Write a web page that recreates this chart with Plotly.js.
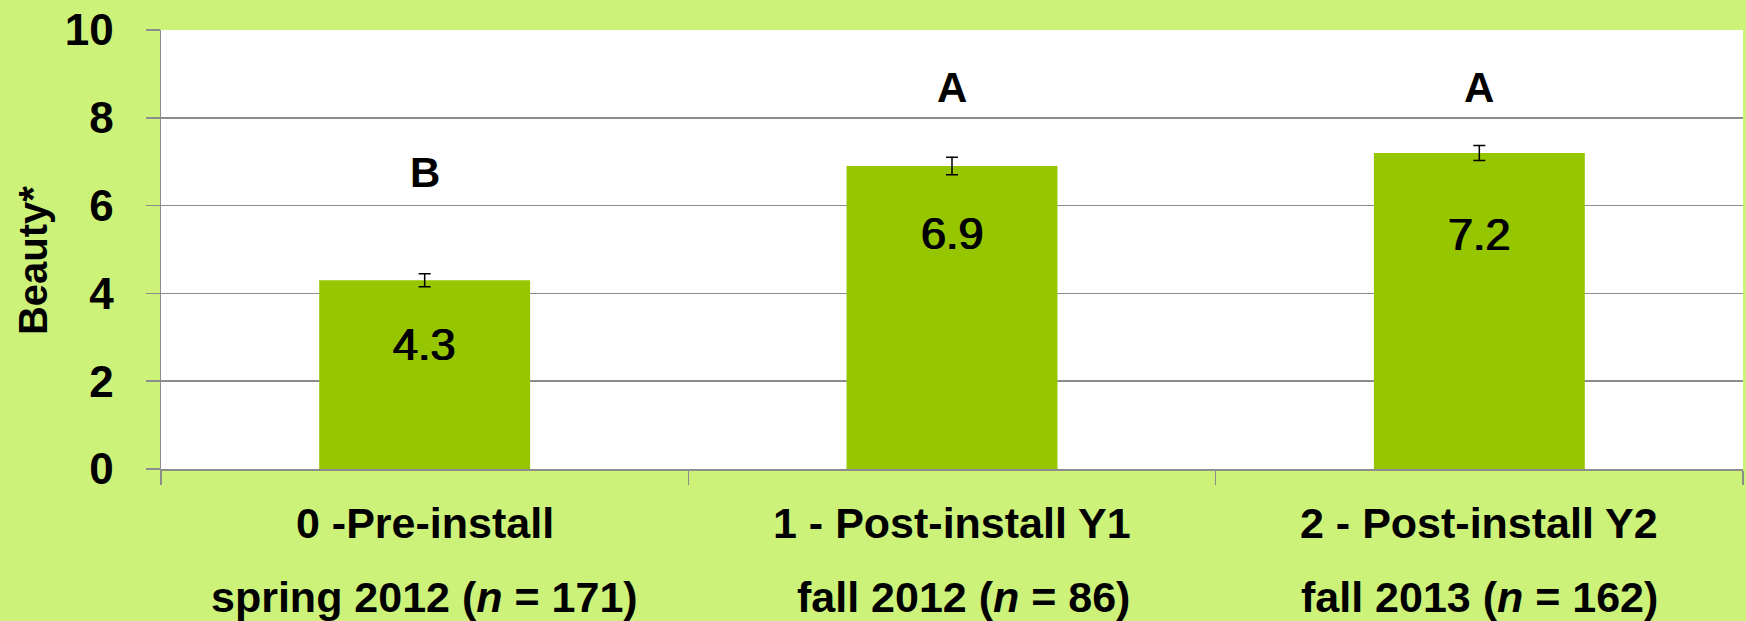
<!DOCTYPE html>
<html>
<head>
<meta charset="utf-8">
<script src="https://cdn.plot.ly/plotly-3.0.1.min.js"></script>
<style>
  html, body { margin: 0; padding: 0; background: #CCF27A; }
  #chart { width: 1746px; height: 621px; }
</style>
</head>
<body>
<div id="chart"></div>
<script>
// ---- data ----
const categories = ['0 -Pre-install', '1 - Post-install Y1', '2 - Post-install Y2'];
const sessions = ['spring 2012 (<i>n</i> = 171)', 'fall 2012 (<i>n</i> = 86)', 'fall 2013 (<i>n</i> = 162)'];
const beauty = [4.3, 6.9, 7.2];
const stdErr = [0.15, 0.2, 0.17];
const groupLetters = ['B', 'A', 'A'];
const yTickVals = [0, 2, 4, 6, 8, 10];

// ---- label placement (style) ----
const letterY = [6.75, 8.7, 8.7];
const valueLabelShift = [-64, -67, -82];
const sessionShift = [0, 11, 0];

const green = '#95C600';
const grid = '#8C8C8C';
const FONT = '"Liberation Sans", Arial, sans-serif';

const trace = {
  type: 'bar',
  x: categories,
  y: beauty,
  marker: { color: green, line: { width: 0 } },
  width: 0.4,
  error_y: { type: 'data', array: stdErr, visible: true, color: '#000000', thickness: 1.5, width: 6 },
  hoverinfo: 'x+y'
};

const annotations = [];
categories.forEach((c, i) => {
  annotations.push({
    xref: 'x', yref: 'paper', x: c, y: 0, yanchor: 'middle', yshift: -54,
    text: c, showarrow: false,
    font: { family: FONT, size: 43, color: '#000', weight: 700 }
  });
  annotations.push({
    xref: 'x', yref: 'paper', x: c, y: 0, yanchor: 'middle', yshift: -128, xshift: sessionShift[i],
    text: sessions[i], showarrow: false,
    font: { family: FONT, size: 43, color: '#000', weight: 700 }
  });
  annotations.push({
    xref: 'x', yref: 'y', x: c, y: beauty[i], yanchor: 'middle', yshift: valueLabelShift[i],
    text: beauty[i].toFixed(1), showarrow: false,
    font: { family: FONT, size: 45, color: '#000', shadow: '0.7px 0 0 #000, -0.7px 0 0 #000' }
  });
  annotations.push({
    xref: 'x', yref: 'y', x: c, y: letterY[i], yanchor: 'middle',
    text: groupLetters[i], showarrow: false,
    font: { family: FONT, size: 42, color: '#000', weight: 700 }
  });
});
annotations.push({
  xref: 'paper', yref: 'paper', x: -0.0805, y: 0.475, xanchor: 'center', yanchor: 'middle',
  text: 'Beauty*', textangle: -90, showarrow: false,
  font: { family: FONT, size: 40, color: '#000', weight: 700 }
});

const layout = {
  width: 1746, height: 621,
  paper_bgcolor: '#CCF27A',
  plot_bgcolor: '#FFFFFF',
  margin: { l: 161, r: 3, t: 30, b: 152, pad: 0 },
  showlegend: false,
  xaxis: {
    type: 'category',
    showticklabels: false,
    tickson: 'boundaries',
    ticks: 'outside', ticklen: 14, tickcolor: grid, tickwidth: 1.5,
    showline: true, linecolor: grid, linewidth: 1.5,
    showgrid: false, zeroline: false,
    fixedrange: true
  },
  yaxis: {
    range: [0, 10],
    tickvals: yTickVals,
    ticktext: yTickVals.map(String),
    ticks: 'outside', ticklen: 14, tickcolor: grid, tickwidth: 1.5,
    showline: true, linecolor: grid, linewidth: 1.5,
    showgrid: true, gridcolor: grid, gridwidth: 1.5,
    zeroline: false,
    ticklabelstandoff: 23,
    tickfont: { family: FONT, size: 44, color: '#000', weight: 700 },
    fixedrange: true
  },
  annotations: annotations
};

Plotly.newPlot('chart', [trace], layout, { displayModeBar: false, staticPlot: true });
</script>
</body>
</html>
